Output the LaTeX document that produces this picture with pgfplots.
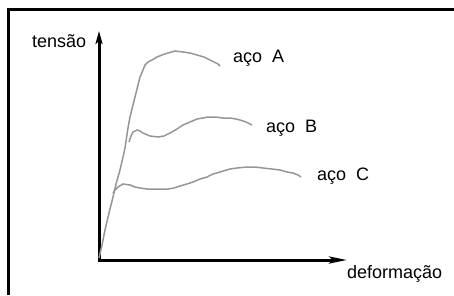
\documentclass[border=0pt]{standalone}
\usepackage{pgfplots}
\pgfplotsset{compat=1.18}
\usepackage{fontspec}
\setmainfont{Liberation Sans}
\usetikzlibrary{arrows.meta}
\definecolor{curve}{RGB}{150,150,150}
\begin{document}
\begin{tikzpicture}
\begin{axis}[
  width=454pt, height=295pt, scale only axis,
  xmin=0, xmax=454, ymin=0, ymax=295, y dir=reverse,
  axis lines=none, clip=false,
]
\coordinate (bl) at (axis cs:0,295);
\coordinate (tr) at (axis cs:454,0);
% frame (top and left edges)
\draw[line width=3pt] (axis cs:8.5,295) -- (axis cs:8.5,9.5) -- (axis cs:454,9.5);
% axes
\draw[line width=3pt, -{Stealth[length=13pt,width=7pt,inset=3pt]}] (axis cs:99,260) -- (axis cs:99,31);
\draw[line width=3pt, -{Stealth[length=18pt,width=7pt,inset=4pt]}] (axis cs:97.5,260) -- (axis cs:347,260);
% steel A (with elastic line)
\addplot[curve, line width=1.5pt, no marks] coordinates {
(99,258) (102,245) (105,230) (109,213) (113,197) (116,184) (120,170) (123,157) (125,148)
(128,128) (130,117) (133,105) (135,97) (138,85) (140,77) (143,70) (145,65) (148,62)
(152,60) (157,57) (162,55) (168,53) (175,51) (183,52) (190,53) (197,55) (204,57)
(210,60) (214,62) (218,64) (220,66)};
% steel B
\addplot[curve, line width=1.5pt, no marks] coordinates {
(129,142) (131,136) (133,132) (137,130) (140,131) (143,133) (150,136) (158,137)
(164,136) (170,133) (177,129) (183,125) (190,122) (197,119) (203,118) (208,117)
(215,117) (223,118) (230,118) (236,119) (240,120) (246,122) (252,125)};
% steel C
\addplot[curve, line width=1.5pt, no marks] coordinates {
(113,193) (115,190) (118,187) (123,184) (130,185) (135,187) (140,188) (147,189)
(153,189) (160,189) (168,189) (174,188) (180,186) (187,184) (193,182) (200,179)
(207,177) (213,174) (220,172) (230,169) (237,168) (247,167) (255,167) (263,168)
(272,169) (280,170) (287,172) (293,173) (298,175) (301,177)};
% labels
\node[anchor=base west, inner sep=0pt, font=\fontsize{18}{20}\selectfont] at (axis cs:32,47) {tensão};
\node[anchor=base west, inner sep=0pt, font=\fontsize{18}{20}\selectfont] at (axis cs:233,62) {aço~~A};
\node[anchor=base west, inner sep=0pt, font=\fontsize{18}{20}\selectfont] at (axis cs:266,132) {aço~~B};
\node[anchor=base west, inner sep=0pt, font=\fontsize{18}{20}\selectfont] at (axis cs:317,180) {aço~~C};
\node[anchor=base west, inner sep=0pt, font=\fontsize{18}{20}\selectfont] at (axis cs:347,278) {deformação};
\end{axis}
\pgfresetboundingbox
\path[use as bounding box] (bl) rectangle (tr);
\end{tikzpicture}
\end{document}
